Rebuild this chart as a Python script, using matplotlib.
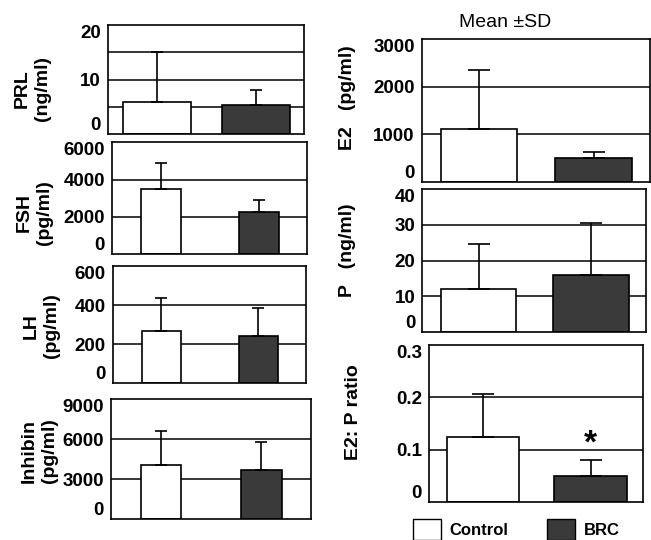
import matplotlib
matplotlib.use("Agg")
import matplotlib.pyplot as plt
from matplotlib.patches import Patch
import numpy as np

plt.rcParams['font.family'] = ['Liberation Sans', 'DejaVu Sans']

# ---------------- data ----------------
groups = ["Control", "BRC"]

prl_mean = [5.9, 5.3]
prl_sd = [9.1, 2.75]
fsh_mean = [3475, 2270]
fsh_sd = [1430, 630]
lh_mean = [268, 244]
lh_sd = [167, 140]
inhibin_mean = [4060, 3665]
inhibin_sd = [2570, 2140]
e2_mean = [1104, 493]
e2_sd = [1250, 126]
p_mean = [12.0, 16.0]
p_sd = [12.6, 14.4]
ratio_mean = [0.124, 0.051]
ratio_sd = [0.082, 0.030]

prl_ticks = [0, 10, 20]
fsh_ticks = [0, 2000, 4000, 6000]
lh_ticks = [0, 200, 400, 600]
inhibin_ticks = [0, 3000, 6000, 9000]
e2_ticks = [0, 1000, 2000, 3000]
p_ticks = [0, 10, 20, 30, 40]
ratio_ticks = [0, 0.1, 0.2, 0.3]
ratio_ticklabels = ["0", "0.1", "0.2", "0.3"]

# ---------------- layout ----------------
W, H = 651, 540
fig = plt.figure(figsize=(W / 100, H / 100), dpi=100)

def rect(x0, x1, y0, y1):
    return [x0 / W, 1 - y1 / H, (x1 - x0) / W, (y1 - y0) / H]

BRC_COLOR = '#3a3a3a'

panels = [
    dict(r=rect(108, 304, 25, 134.3), mean=prl_mean, sd=prl_sd, ticks=prl_ticks,
         labels=[str(t) for t in prl_ticks], grid=[5, 10, 15], top=20, bw=0.69, cap=4,
         ylab="PRL\n(ng/ml)", lx=32, ly=89),
    dict(r=rect(111.7, 306.7, 142.3, 254), mean=fsh_mean, sd=fsh_sd, ticks=fsh_ticks,
         labels=[str(t) for t in fsh_ticks], grid=[2000, 4000], top=6000, bw=0.41, cap=4,
         ylab="FSH\n(pg/ml)", lx=34, ly=213),
    dict(r=rect(112.7, 306, 266, 383.3), mean=lh_mean, sd=lh_sd, ticks=lh_ticks,
         labels=[str(t) for t in lh_ticks], grid=[200, 400], top=600, bw=0.40, cap=4,
         ylab="LH\n(pg/ml)", lx=41, ly=326),
    dict(r=rect(110.7, 310.7, 399, 519.3), mean=inhibin_mean, sd=inhibin_sd, ticks=inhibin_ticks,
         labels=[str(t) for t in inhibin_ticks], grid=[3000, 6000], top=9000, bw=0.40, cap=4,
         ylab="Inhibin\n(pg/ml)", lx=39, ly=451),
    dict(r=rect(421.7, 650, 39.3, 181.7), mean=e2_mean, sd=e2_sd, ticks=e2_ticks,
         labels=[str(t) for t in e2_ticks], grid=[1000, 2000], top=3000, bw=0.67, cap=8,
         ylab="E2   (pg/ml)", lx=347, ly=98),
    dict(r=rect(422.3, 646, 189, 332.3), mean=p_mean, sd=p_sd, ticks=p_ticks,
         labels=[str(t) for t in p_ticks], grid=[10, 20, 30], top=40, bw=0.675, cap=8,
         ylab="P   (ng/ml)", lx=347, ly=250),
    dict(r=rect(429, 643.3, 345, 502.3), mean=ratio_mean, sd=ratio_sd, ticks=ratio_ticks,
         labels=ratio_ticklabels, grid=[0.1, 0.2], top=0.3, bw=0.673, cap=8,
         ylab="E2: P ratio", lx=354, ly=412),
]

x = np.arange(len(groups))
axes = []
for p in panels:
    ax = fig.add_axes(p['r'])
    axes.append(ax)
    ax.set_axisbelow(True)
    ax.bar(x, p['mean'], width=p['bw'], color=['white', BRC_COLOR],
           edgecolor='black', linewidth=1.2, zorder=2)
    ax.errorbar(x, p['mean'], yerr=[np.zeros(len(x)), p['sd']], fmt='none',
                ecolor='black', elinewidth=1.2, capsize=p['cap'], capthick=1.2, zorder=3)
    ax.set_xlim(-0.5, 1.49)
    ax.set_ylim(0, p['top'])
    ax.set_xticks([])
    ax.yaxis.remove_overlapping_locs = False
    ax.set_yticks(p['ticks'])
    tl = ax.set_yticklabels(p['labels'], fontsize=13.5, fontweight='bold')
    tl[0].set_verticalalignment('bottom')
    tl[-1].set_verticalalignment('top')
    ax.set_yticks(p['grid'], minor=True)
    ax.tick_params(axis='y', which='both', length=0, pad=5)
    ax.grid(axis='y', which='minor', color='black', linewidth=1.1)
    for s in ax.spines.values():
        s.set_linewidth(1.2)
    fig.text(p['lx'] / W, 1 - p['ly'] / H, p['ylab'], rotation=90, ha='center',
             va='center', fontsize=14, fontweight='bold', linespacing=1.25,
             multialignment='center')

# significance mark
axes[-1].text(1, 0.095, "*", ha='center', va='baseline', fontsize=24, fontweight='bold')

# title
fig.text(505 / W, 1 - 22.7 / H, "Mean \u00b1SD", ha='center', va='center', fontsize=14)

# legend
handles = [Patch(facecolor='white', edgecolor='black', linewidth=1.0, label=groups[0]),
           Patch(facecolor=BRC_COLOR, edgecolor='black', linewidth=1.0, label=groups[1])]
fig.legend(handles=handles, loc='upper left', bbox_to_anchor=(413 / W, 1 - 519 / H),
           ncol=2, frameon=False, prop={'size': 12, 'weight': 'bold'},
           handlelength=1.7, handleheight=1.6, handletextpad=0.5, columnspacing=2.3,
           borderpad=0, borderaxespad=0)

fig.savefig("out.png", dpi=100)
